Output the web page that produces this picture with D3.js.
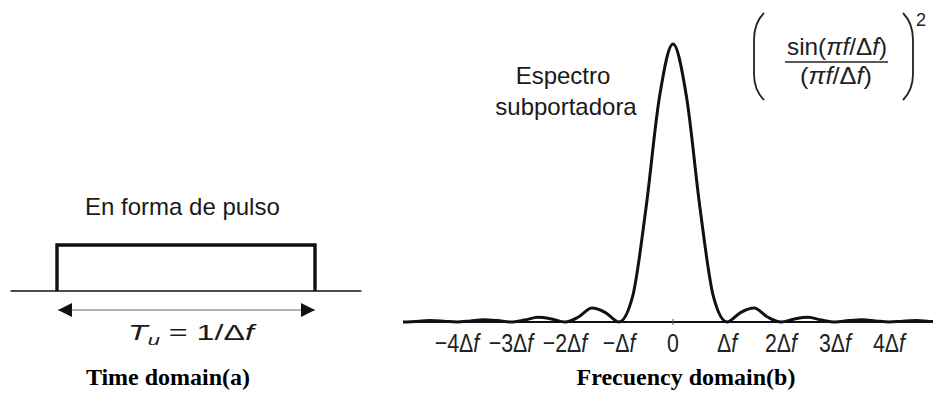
<!DOCTYPE html>
<html>
<head>
<meta charset="utf-8">
<script src="https://cdn.jsdelivr.net/npm/d3@7"></script>
<style>
  html, body { margin: 0; padding: 0; background: #fff; }
  svg { display: block; }
</style>
</head>
<body>
<svg id="chart" width="933" height="396"></svg>
<script>
// ---------- data ----------
// Time domain: rectangular pulse of width Tu (normalised to -0.5..0.5)
const pulseTimes = [-0.5, -0.5, 0.5, 0.5];
const pulseLevels = [0, 1, 1, 0];
const timeAxisExtent = [-0.68, 0.68];

// Frequency domain: subcarrier spectrum (units of Δf)
const freqs = [-5, -4.75, -4.5, -4.25, -4, -3.75, -3.5, -3.25, -3, -2.75, -2.5, -2.25, -2,
  -1.75, -1.5, -1.25, -1, -0.75, -0.5, -0.25, 0, 0.25, 0.5, 0.75, 1, 1.25, 1.5, 1.75, 2,
  2.25, 2.5, 2.75, 3, 3.25, 3.5, 3.75, 4, 4.25, 4.5, 4.75, 5];
const spectrum = [0, 0.002, 0.005, 0.003, 0, 0.004, 0.008, 0.005, 0, 0.007, 0.017, 0.011, 0,
  0.018, 0.05, 0.034, 0, 0.09, 0.41, 0.81, 1, 0.81, 0.41, 0.09, 0, 0.034, 0.05, 0.018, 0,
  0.011, 0.017, 0.007, 0, 0.005, 0.008, 0.004, 0, 0.003, 0.005, 0.002, 0];
const tickValues = [-4, -3, -2, -1, 0, 1, 2, 3, 4];
const tickLabels = ["−4Δf", "−3Δf", "−2Δf", "−Δf", "0", "Δf", "2Δf", "3Δf", "4Δf"];

// ---------- drawing ----------
const svg = d3.select("#chart");
svg.append("rect").attr("width", 933).attr("height", 396).attr("fill", "#fff");
const sans = "'Liberation Sans', Arial, Helvetica, sans-serif";
const serif = "'Liberation Serif', 'Times New Roman', serif";
const ink = "#111";

// ===== Panel (a): time domain =====
const xT = d3.scaleLinear().domain([-0.5, 0.5]).range([57, 315]);
const yT = d3.scaleLinear().domain([0, 1]).range([291, 245]);

svg.append("line")
  .attr("x1", xT(timeAxisExtent[0])).attr("x2", xT(timeAxisExtent[1]))
  .attr("y1", yT(0)).attr("y2", yT(0))
  .attr("stroke", ink).attr("stroke-width", 1.6);

const pulseLine = d3.line().x(d => xT(d[0])).y(d => yT(d[1]));
svg.append("path")
  .attr("d", pulseLine(pulseTimes.map((t, i) => [t, pulseLevels[i]])))
  .attr("fill", "none").attr("stroke", ink).attr("stroke-width", 3.4)
  .attr("stroke-linejoin", "miter");

// double arrow Tu
const defs = svg.append("defs");
defs.append("marker").attr("id", "ah").attr("viewBox", "0 0 14 14")
  .attr("refX", 14).attr("refY", 7).attr("markerWidth", 14).attr("markerHeight", 14)
  .attr("markerUnits", "userSpaceOnUse").attr("orient", "auto-start-reverse")
  .append("path").attr("d", "M0,0 L14,7 L0,14 Z").attr("fill", ink);
svg.append("line")
  .attr("x1", xT(-0.5) + 1).attr("x2", xT(0.5))
  .attr("y1", 310).attr("y2", 310)
  .attr("stroke", "#666").attr("stroke-width", 1.2)
  .attr("marker-start", "url(#ah)").attr("marker-end", "url(#ah)");

svg.append("text").attr("x", 85).attr("y", 215)
  .attr("font-family", sans).attr("font-size", 24).attr("fill", "#1a1a1a")
  .text("En forma de pulso");

// Tu = 1/Δf
const tu = svg.append("text").attr("x", 128).attr("y", 340)
  .attr("font-family", sans).attr("font-size", 22).attr("fill", "#1a1a1a")
  .attr("textLength", 126).attr("lengthAdjust", "spacingAndGlyphs");
tu.append("tspan").attr("font-style", "italic").text("T");
tu.append("tspan").attr("font-style", "italic").attr("font-size", 15).attr("dy", 5).text("u");
tu.append("tspan").attr("dy", -5).text(" = 1/Δ");
tu.append("tspan").attr("font-style", "italic").text("f");

svg.append("text").attr("x", 168).attr("y", 385).attr("text-anchor", "middle")
  .attr("font-family", serif).attr("font-size", 24).attr("font-weight", "bold").attr("fill", "#000")
  .text("Time domain(a)");

// ===== Panel (b): frequency domain =====
const xF = d3.scaleLinear().domain([-5, 5]).range([403, 943]);
const yF = d3.scaleLinear().domain([0, 1]).range([322, 44]);

svg.append("line")
  .attr("x1", xF(-5)).attr("x2", xF(5))
  .attr("y1", yF(0)).attr("y2", yF(0))
  .attr("stroke", ink).attr("stroke-width", 2);

// tick at zero
svg.append("line")
  .attr("x1", xF(0)).attr("x2", xF(0))
  .attr("y1", yF(0) - 3).attr("y2", yF(0) + 3)
  .attr("stroke", "#555").attr("stroke-width", 1);

const specLine = d3.line()
  .x(d => xF(d[0])).y(d => yF(d[1]))
  .curve(d3.curveMonotoneX);
svg.append("path")
  .attr("d", specLine(freqs.map((f, i) => [f, spectrum[i]])))
  .attr("fill", "none").attr("stroke", ink).attr("stroke-width", 3)
  .attr("stroke-linejoin", "round");

// tick labels
const tl = svg.append("g").selectAll("g").data(tickValues).join("g")
  .attr("transform", d => `translate(${xF(d)},352) scale(0.82,1)`);
tl.each(function (d, i) {
  const lab = tickLabels[i];
  const t = d3.select(this).append("text")
    .attr("text-anchor", "middle")
    .attr("font-family", sans).attr("font-size", 26).attr("fill", "#222");
  if (lab.endsWith("f")) {
    t.append("tspan").text(lab.slice(0, -1));
    t.append("tspan").attr("font-style", "italic").text("f");
  } else {
    t.text(lab);
  }
});

// annotation
svg.append("text").attr("x", 563).attr("y", 84).attr("text-anchor", "middle")
  .attr("font-family", sans).attr("font-size", 24).attr("fill", "#1a1a1a")
  .text("Espectro");
svg.append("text").attr("x", 566).attr("y", 115).attr("text-anchor", "middle")
  .attr("font-family", sans).attr("font-size", 24).attr("fill", "#1a1a1a")
  .text("subportadora");

// formula
const fg = svg.append("g");
fg.append("path").attr("d", "M764,13 C756,21 754,30 754,40 L754,74 C754,84 756,92 764,100")
  .attr("fill", "none").attr("stroke", "#222").attr("stroke-width", 1.8);
fg.append("path").attr("d", "M903,13 C911,21 913,30 913,40 L913,74 C913,84 911,92 903,100")
  .attr("fill", "none").attr("stroke", "#222").attr("stroke-width", 1.8);
fg.append("text").attr("x", 916).attr("y", 26)
  .attr("font-family", sans).attr("font-size", 18).attr("fill", "#222").text("2");
const num = fg.append("text").attr("x", 787).attr("y", 55)
  .attr("font-family", sans).attr("font-size", 24).attr("fill", "#222")
  .attr("textLength", 100).attr("lengthAdjust", "spacingAndGlyphs");
num.append("tspan").text("sin(");
num.append("tspan").attr("font-style", "italic").text("πf");
num.append("tspan").text("/Δ");
num.append("tspan").attr("font-style", "italic").text("f");
num.append("tspan").text(")");
fg.append("line").attr("x1", 785).attr("x2", 888).attr("y1", 62).attr("y2", 62)
  .attr("stroke", "#222").attr("stroke-width", 1.5);
const den = fg.append("text").attr("x", 800).attr("y", 84)
  .attr("font-family", sans).attr("font-size", 24).attr("fill", "#222")
  .attr("textLength", 72).attr("lengthAdjust", "spacingAndGlyphs");
den.append("tspan").text("(");
den.append("tspan").attr("font-style", "italic").text("πf");
den.append("tspan").text("/Δ");
den.append("tspan").attr("font-style", "italic").text("f");
den.append("tspan").text(")");

svg.append("text").attr("x", 686).attr("y", 385).attr("text-anchor", "middle")
  .attr("font-family", serif).attr("font-size", 24).attr("font-weight", "bold").attr("fill", "#000")
  .text("Frecuency domain(b)");
</script>
</body>
</html>
